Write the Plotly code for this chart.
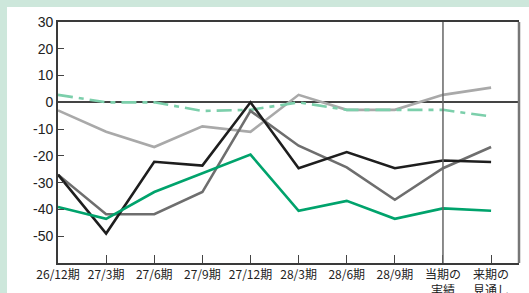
import plotly.graph_objects as go

categories = ["26/12期", "27/3期", "27/6期", "27/9期", "27/12期", "28/3期", "28/6期", "28/9期", "当期の<br>実績", "来期の<br>見通し"]
light_gray = [-3, -11, -16.7, -9, -11, 2.8, -2.8, -2.8, 2.8, 5.5]
dash_green = [2.8, 0, 0, -3.2, -2.8, 0, -2.8, -2.8, -2.8, -5.3]
black = [-27, -49, -22.2, -23.6, 0, -24.6, -18.6, -24.6, -21.7, -22.3]
dark_gray = [-27, -41.8, -41.8, -33.5, -3.2, -16.2, -24.3, -36.4, -24.6, -16.7]
green = [-39.1, -43.5, -33.5, -26.4, -19.5, -40.5, -36.8, -43.5, -39.6, -40.5]
y_ticks = [30, 20, 10, 0, -10, -20, -30, -40, -50]
y_ticktext = ["30", "20", "10", "0", "-10", "-20", "-30", "-40", "-50"]

fig = go.Figure()
series = [
    (light_gray, "#a9a9a9", "solid"),
    (dash_green, "#7ccfab", "15px,6px,5px,6px"),
    (dark_gray, "#6e6e6e", "solid"),
    (black, "#1e1e1e", "solid"),
    (green, "#00a36c", "solid"),
]
for vals, col, dash in series:
    fig.add_trace(go.Scatter(x=categories, y=vals, mode="lines",
                             line=dict(color=col, width=2.6, dash=dash),
                             showlegend=False, hoverinfo="skip"))

L, R, T, B = 58, 10, 22, 30
W, H = 529, 293
pw, ph = W - L - R, H - T - B

def px_x(p):
    return (p - L) / pw

def px_y(p):
    return (H - B - p) / ph

fig.update_layout(
    template="none",
    width=W, height=H,
    margin=dict(l=L, r=R, t=T, b=B, pad=0, autoexpand=False),
    paper_bgcolor="white", plot_bgcolor="white",
    shapes=[
        dict(type="rect", xref="paper", yref="paper", x0=px_x(0), x1=px_x(7), y0=px_y(H), y1=px_y(0),
             fillcolor="#cde7db", line=dict(width=0)),
        dict(type="rect", xref="paper", yref="paper", x0=px_x(0), x1=px_x(W), y0=px_y(7), y1=px_y(0),
             fillcolor="#cde7db", line=dict(width=0)),
        dict(type="line", xref="x", yref="paper", x0=categories[8], x1=categories[8], y0=0, y1=1,
             line=dict(color="#666666", width=1.5), layer="above"),
        dict(type="line", xref="paper", yref="paper", x0=1, x1=1, y0=0, y1=1,
             line=dict(color="#777777", width=2.5), layer="above"),
    ],
)
fig.update_xaxes(
    type="category", categoryorder="array", categoryarray=categories,
    range=[0, 9.58], showgrid=False, zeroline=False, automargin=False,
    showline=True, linecolor="#3a3a3a", linewidth=1.8, mirror=True,
    ticks="inside", ticklen=8, tickcolor="#444444", tickwidth=1.2,
    tickfont=dict(family="Noto Sans CJK JP", size=12, color="#222222"),
)
fig.update_yaxes(
    range=[-60, 30], tickvals=y_ticks, ticktext=y_ticktext, automargin=False,
    showgrid=False, zeroline=True, zerolinecolor="#444444", zerolinewidth=1.5,
    showline=True, linecolor="#3a3a3a", linewidth=1.8, mirror=False,
    ticks="inside", ticklen=6, tickcolor="#444444", tickwidth=1.2,
    tickfont=dict(family="Liberation Sans", size=14, color="#222222"),
)
fig.write_html("out.html", config={"displayModeBar": False},
               post_script="document.body.style.margin='0';document.body.style.overflow='hidden';")
